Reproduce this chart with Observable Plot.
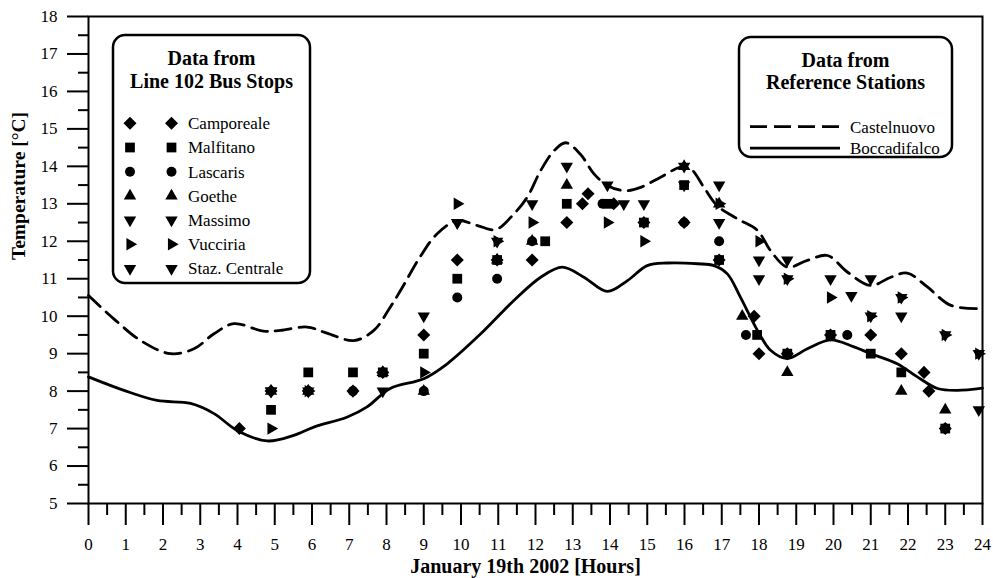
<!DOCTYPE html>
<html><head><meta charset="utf-8">
<script src="https://cdn.jsdelivr.net/npm/d3@7"></script>
<script src="https://cdn.jsdelivr.net/npm/@observablehq/plot@0.6"></script>
<style>
body{margin:0;background:#fff;}
</style></head><body><div id="chart"></div>
<script>
// ---- Data ----
const xTicks = d3.range(0, 25);
const xMinorTicks = d3.range(0.5, 24, 1);
const yTicks = d3.range(5, 19);
const yMinorTicks = d3.range(5.5, 18, 1);

const castelnuovo = [[0,10.55],[0.68,9.93],[1.4,9.35],[2.2,9.0],[2.83,9.13],[3.37,9.53],[3.9,9.8],[4.7,9.6],[5.15,9.62],[5.87,9.71],[6.4,9.55],[7.12,9.35],[7.66,9.62],[8.1,10.24],[8.38,10.69],[8.9,11.58],[9.36,12.2],[9.9,12.55],[10.44,12.42],[10.93,12.31],[11.42,12.73],[11.78,13.18],[12.14,13.89],[12.5,14.42],[12.81,14.63],[13.2,14.33],[13.57,13.8],[13.93,13.49],[14.38,13.35],[14.82,13.44],[15.36,13.71],[15.9,13.98],[16.17,13.93],[16.52,13.44],[16.88,12.95],[17.42,12.6],[17.96,12.29],[18.31,11.75],[18.76,11.31],[19.3,11.49],[19.84,11.62],[20.37,11.18],[21.0,10.82],[21.54,11.04],[21.98,11.15],[22.52,10.78],[23.15,10.29],[24,10.2]];
const boccadifalco = [[0,8.38],[0.95,8.02],[1.84,7.75],[2.74,7.67],[3.37,7.4],[3.99,6.95],[4.8,6.67],[5.51,6.82],[6.05,7.04],[6.95,7.31],[7.48,7.58],[8.1,8.07],[9.0,8.33],[9.63,8.73],[10.53,9.53],[11.42,10.42],[12.14,11.04],[12.72,11.31],[13.3,11.04],[13.93,10.66],[14.47,10.95],[15.0,11.35],[15.54,11.42],[16.35,11.4],[16.79,11.35],[17.15,11.13],[17.5,10.51],[17.96,9.62],[18.31,9.09],[18.76,8.87],[19.3,9.13],[19.92,9.37],[20.55,9.18],[21.0,9.0],[21.71,8.73],[22.25,8.38],[22.79,8.07],[23.32,8.02],[24,8.08]];

const camporeale = [[4.05,7.0],[4.9,8.0],[5.9,8.0],[7.1,8.0],[7.9,8.5],[9.0,9.5],[9.9,11.5],[10.97,11.5],[11.91,11.5],[12.84,12.5],[13.26,13.0],[13.41,13.27],[14.1,13.0],[14.91,12.5],[15.99,12.5],[16.93,11.5],[17.87,10.0],[18.0,9.0],[18.76,9.0],[19.92,9.5],[21.0,9.5],[21.82,9.0],[22.43,8.5],[22.56,8.0],[23.0,7.0]];
const malfitano = [[4.9,7.5],[5.9,8.5],[7.1,8.5],[7.9,8.5],[9.0,9.0],[9.9,11.0],[10.97,11.5],[12.26,12.0],[12.84,13.0],[13.95,13.0],[14.91,12.5],[15.99,13.5],[16.93,11.5],[17.95,9.5],[18.76,9.0],[19.92,9.5],[21.0,9.0],[21.82,8.5],[23.0,7.0]];
const lascaris = [[5.9,8.0],[7.1,8.0],[9.0,8.0],[9.9,10.5],[10.97,11.0],[11.91,12.0],[13.8,13.0],[15.99,12.5],[16.93,12.0],[17.65,9.5],[18.76,9.0],[20.37,9.5],[23.0,7.0]];
const goethe = [[4.9,8.0],[5.9,8.0],[7.9,8.5],[9.0,8.0],[10.97,11.5],[11.91,12.0],[12.84,13.5],[15.99,14.0],[16.93,13.0],[17.55,10.0],[18.76,8.5],[21.82,8.0],[23.0,7.5]];
const massimo = [[4.9,8.0],[5.9,8.0],[7.9,8.0],[9.0,10.0],[9.9,12.5],[10.97,12.0],[11.91,13.0],[13.93,13.5],[14.91,13.0],[15.99,14.0],[16.93,13.5],[18.0,11.5],[18.76,11.5],[19.92,11.0],[21.0,11.0],[21.82,10.5],[23.0,9.5],[23.9,9.0]];
const vucciria = [[4.9,7.0],[5.9,8.0],[9.0,8.5],[9.9,13.0],[10.97,12.0],[11.91,12.5],[13.93,12.5],[14.91,12.0],[16.93,13.0],[18.0,12.0],[18.76,11.0],[19.92,10.5],[21.0,10.0],[21.82,10.5],[23.0,9.5],[23.9,9.0]];
const stazCentrale = [[4.9,8.0],[9.9,12.5],[12.84,14.0],[14.37,13.0],[15.99,13.5],[16.93,12.5],[18.0,11.0],[18.76,11.0],[20.48,10.55],[21.0,10.0],[21.82,10.0],[23.9,7.5]];

const busStopNames = ["Camporeale","Malfitano","Lascaris","Goethe","Massimo","Vucciria","Staz. Centrale"];
const busStopData = [camporeale, malfitano, lascaris, goethe, massimo, vucciria, stazCentrale];
const stationNames = ["Castelnuovo","Boccadifalco"];

// ---- Styles ----
const markerStyle = [
  {symbol:"square", r:5.2, rotate:45},
  {symbol:"square", r:5.5, rotate:0},
  {symbol:"circle", r:5, rotate:0},
  {symbol:"triangle", r:4.6, rotate:0},
  {symbol:"triangle", r:4.6, rotate:180},
  {symbol:"triangle", r:4.6, rotate:90},
  {symbol:"triangle", r:4.6, rotate:180}
];
const lineDash = ["16,8", null];
const FONT = "Liberation Serif, Times New Roman, serif";

const dotMarks = busStopData.map((data, i) => Plot.dot(data, {
  x: d => d[0], y: d => d[1],
  symbol: markerStyle[i].symbol, r: markerStyle[i].r, rotate: markerStyle[i].rotate,
  fill: "#000", stroke: "none"
}));

const plot = Plot.plot({
  width: 993, height: 578,
  marginLeft: 88, marginRight: 11, marginTop: 16, marginBottom: 75,
  style: {fontFamily: FONT, fontSize: "17px", color: "#000", background: "#fff"},
  x: {domain: [0, 24], label: null},
  y: {domain: [5, 18], label: null},
  marks: [
    Plot.line(castelnuovo, {x: d => d[0], y: d => d[1], curve: "catmull-rom", stroke: "#000", strokeWidth: 2.8, strokeDasharray: lineDash[0]}),
    Plot.line(boccadifalco, {x: d => d[0], y: d => d[1], curve: "catmull-rom", stroke: "#000", strokeWidth: 2.8}),
    ...dotMarks,
    Plot.frame({stroke: "#000", strokeWidth: 2}),
    Plot.axisY(yTicks, {tickSize: 21, tickPadding: 10, strokeWidth: 2, fontSize: 17, label: null}),
    Plot.axisY(yMinorTicks, {tickSize: 10, strokeWidth: 2, tickFormat: () => "", label: null}),
    Plot.axisX(xTicks, {tickSize: 22, tickPadding: 12, strokeWidth: 2, fontSize: 17, label: null}),
    Plot.axisX(xMinorTicks, {tickSize: 12, strokeWidth: 2, tickFormat: () => "", label: null}),
    Plot.text(["January 19th 2002 [Hours]"], {frameAnchor: "bottom", lineAnchor: "middle", dy: 63, dx: -10, fontWeight: "bold", fontSize: 20}),
    Plot.text(["Temperature [°C]"], {frameAnchor: "left", lineAnchor: "middle", rotate: -90, dx: -70, fontWeight: "bold", fontSize: 19.5})
  ]
});

// ---- Legends (drawn into the plot's SVG) ----
const svg = d3.select(plot);
const lg = svg.append("g").attr("font-family", FONT).attr("fill", "#000");

function box(x, y, w, h) {
  lg.append("rect").attr("x", x).attr("y", y).attr("width", w).attr("height", h)
    .attr("rx", 12).attr("fill", "#fff").attr("stroke", "#000").attr("stroke-width", 2.5);
}
function label(txt, x, y, opts = {}) {
  lg.append("text").attr("x", x).attr("y", y).attr("dy", "0.35em")
    .attr("text-anchor", opts.anchor || "start")
    .attr("font-weight", opts.bold ? "bold" : "normal")
    .attr("font-size", opts.size || 17).text(txt);
}
const symbolTypes = {square: d3.symbolSquare, circle: d3.symbolCircle, triangle: d3.symbolTriangle};

// left box: bus stops
box(113, 35, 197, 248);
label("Data from", 211.5, 58, {anchor: "middle", bold: true, size: 20});
label("Line 102 Bus Stops", 211.5, 81, {anchor: "middle", bold: true, size: 20});
busStopNames.forEach((name, i) => {
  const y = 123.3 + i * 24.2;
  const m = markerStyle[i];
  const path = d3.symbol(symbolTypes[m.symbol], m.r * m.r * Math.PI)();
  [130, 171.5].forEach(x => {
    lg.append("path").attr("d", path).attr("transform", `translate(${x},${y}) rotate(${m.rotate})`).attr("fill", "#000");
  });
  label(name, 188, y);
});

// right box: reference stations
box(739, 37, 213, 120);
label("Data from", 845.5, 60, {anchor: "middle", bold: true, size: 20});
label("Reference Stations", 845.5, 82, {anchor: "middle", bold: true, size: 20});
stationNames.forEach((name, i) => {
  const y = 126.7 + i * 21.5;
  const l = lg.append("line").attr("x1", 750).attr("x2", 840).attr("y1", y).attr("y2", y)
    .attr("stroke", "#000").attr("stroke-width", 2.8);
  if (lineDash[i]) l.attr("stroke-dasharray", "17,7");
  label(name, 850, y);
});

document.getElementById("chart").appendChild(plot);
</script>
</body></html>
